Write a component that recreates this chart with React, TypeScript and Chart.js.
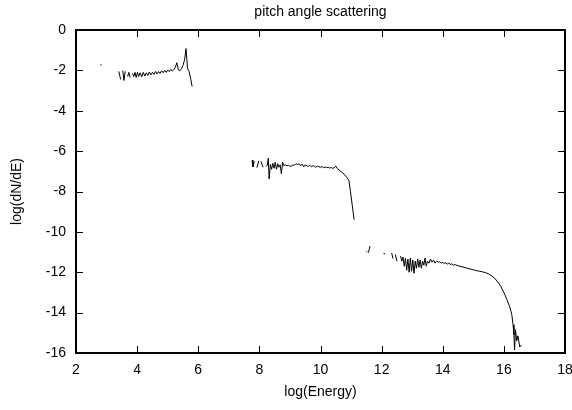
import React, { useEffect, useRef } from "react";
import { Chart, registerables } from "chart.js";

Chart.register(...registerables);

// ---- data (log Energy, log dN/dE); null = gap in the curve ----
const seg0Energy = [2.8, 2.84];
const seg0Flux = [-1.72, -1.74];

const seg1Energy = [3.40, 3.43, 3.46, 3.50, 3.53, 3.57, 3.61, 3.65, 3.69, 3.73, 3.77, 3.81, 3.85, 3.89, 3.93, 3.97, 4.01, 4.05, 4.10, 4.15, 4.20, 4.25, 4.30, 4.35, 4.40, 4.45, 4.50, 4.55, 4.60, 4.65, 4.70, 4.75, 4.80, 4.85, 4.90, 4.95, 5.00, 5.05, 5.10, 5.15, 5.20, 5.25, 5.30, 5.35, 5.40, 5.45, 5.50, 5.55, 5.60, 5.65, 5.70, 5.75, 5.80];
const seg1Flux = [-2.05, -2.25, -2.45, null, -2.0, -2.5, -2.05, null, -2.3, -2.1, -2.35, null, -2.15, -2.3, -2.1, -2.35, -2.1, -2.3, -2.12, -2.32, -2.1, -2.28, -2.12, -2.25, -2.08, -2.22, -2.1, -2.2, -2.05, -2.18, -2.06, -2.15, -2.02, -2.12, -2.0, -2.1, -1.98, -2.06, -1.95, -2.02, -1.97, -1.85, -1.62, -1.98, -2.02, -1.92, -1.75, -1.5, -0.92, -1.9, -2.05, -2.4, -2.8];

const seg2Energy = [7.76, 7.79, 7.83, 7.87, 7.92, 7.98, 8.02, 8.05, 8.12, 8.16, 8.21, 8.26, 8.29, 8.32, 8.36, 8.40, 8.44, 8.48, 8.52, 8.56, 8.60, 8.64, 8.68, 8.72, 8.76, 8.80, 8.85, 8.90, 8.95, 9.00, 9.05, 9.10, 9.15, 9.20, 9.25, 9.30, 9.35, 9.40, 9.45, 9.50, 9.55, 9.60, 9.65, 9.70, 9.75, 9.80, 9.85, 9.90, 9.95, 10.00, 10.05, 10.10, 10.15, 10.20, 10.25, 10.30, 10.35, 10.40, 10.45, 10.50, 10.55, 10.62, 10.70, 10.78, 10.86, 10.93, 10.98, 11.04, 11.10];
const seg2Flux = [-6.45, -6.78, -6.5, null, -6.82, -6.48, null, -6.5, -6.8, null, -6.78, -6.7, -6.35, -7.38, -6.65, -6.9, -6.6, -6.85, -6.55, -6.9, -6.62, -6.8, -6.68, -7.12, -6.55, -6.72, -6.68, -6.72, -6.7, -6.75, -6.74, -6.68, -6.7, -6.62, -6.67, -6.63, -6.72, -6.64, -6.78, -6.68, -6.72, -6.76, -6.7, -6.78, -6.72, -6.75, -6.8, -6.74, -6.78, -6.8, -6.76, -6.82, -6.79, -6.82, -6.8, -6.84, -6.81, -6.85, -6.83, -6.74, -6.86, -6.95, -7.05, -7.15, -7.3, -7.45, -8.0, -8.7, -9.4];

const seg3Energy = [11.50, 11.53, 11.55, 11.57, 11.62, 11.80, 12.06, 12.12, 12.20, 12.33, 12.37, 12.41, 12.45, 12.50, 12.55, 12.62, 12.66, 12.70, 12.74, 12.78, 12.82, 12.86, 12.90, 12.94, 12.98, 13.02, 13.06, 13.10, 13.14, 13.18, 13.22, 13.26, 13.30, 13.34, 13.38, 13.42, 13.46, 13.50, 13.55, 13.60, 13.65, 13.70, 13.75, 13.80, 13.85, 13.90, 13.95, 14.00, 14.05, 14.10, 14.15, 14.20, 14.25, 14.30, 14.35, 14.40, 14.50, 14.60, 14.70, 14.80, 14.90, 15.00, 15.10, 15.20, 15.30, 15.40, 15.50, 15.60, 15.70, 15.80, 15.90, 16.00, 16.10, 16.20, 16.26, 16.30, 16.33, 16.35, 16.38, 16.42, 16.46, 16.52, 16.58];
const seg3Flux = [-10.97, -11.0, null, -11.03, -10.7, null, -11.06, -11.1, null, -11.05, -11.32, null, -11.12, -11.45, null, -11.2, -11.45, -11.25, -11.7, -11.3, -11.9, -11.35, -12.0, -11.3, -11.95, -11.4, -12.05, -11.45, -11.8, -11.35, -11.75, -11.4, -11.8, -11.45, -11.65, -11.3, -11.7, -11.45, -11.55, -11.35, -11.5, -11.4, -11.55, -11.45, -11.5, -11.48, -11.55, -11.5, -11.58, -11.52, -11.6, -11.55, -11.62, -11.58, -11.65, -11.62, -11.68, -11.72, -11.75, -11.8, -11.84, -11.88, -11.92, -11.95, -11.98, -12.02, -12.08, -12.18, -12.3, -12.48, -12.7, -13.0, -13.35, -13.75, -14.1, -14.6, -15.1, -15.85, -14.85, -15.4, -15.15, -15.7, -15.6];

const xMin = 2, xMax = 18, xStep = 2;
const yMin = -16, yMax = 0, yStep = 2;

const titleText = "pitch angle scattering";
const xTitle = "log(Energy)";
const yTitle = "log(dN/dE)";

const FONT = "'Liberation Sans', Arial, Helvetica, sans-serif";

function zip(xs: number[], ys: (number | null)[]) {
  return xs.map((x, i) => ({ x, y: ys[i] }));
}

const framePlugin = {
  id: "gnuFrame",
  afterDatasetsDraw(chart: any) {
    const { ctx, chartArea, scales } = chart;
    const { left, right, top, bottom } = chartArea;
    const xs = scales.x;
    const ys = scales.y;
    const len = 7;
    ctx.save();
    ctx.strokeStyle = "#000";
    ctx.lineWidth = 1;
    ctx.beginPath();
    xs.ticks.forEach((t: any) => {
      const px = Math.round(xs.getPixelForValue(t.value)) + 0.5;
      if (px <= left + 2 || px >= right - 2) return;
      ctx.moveTo(px, bottom);
      ctx.lineTo(px, bottom - len);
      ctx.moveTo(px, top);
      ctx.lineTo(px, top + len);
    });
    ys.ticks.forEach((t: any) => {
      const py = Math.round(ys.getPixelForValue(t.value)) + 0.5;
      if (py <= top + 2 || py >= bottom - 2) return;
      ctx.moveTo(left, py);
      ctx.lineTo(left + len, py);
      ctx.moveTo(right, py);
      ctx.lineTo(right - len, py);
    });
    ctx.stroke();
    ctx.lineWidth = 2;
    ctx.strokeRect(left, top, right - left, bottom - top);
    ctx.restore();
  },
};

export default function App() {
  const ref = useRef<HTMLCanvasElement | null>(null);

  useEffect(() => {
    document.body.style.margin = "0";
    const canvas = ref.current;
    if (!canvas) return;
    Chart.defaults.font.family = FONT;
    Chart.defaults.color = "#000";

    const ds = (data: any[]) => ({
      data,
      showLine: true,
      borderColor: "#000",
      backgroundColor: "#000",
      borderWidth: 1,
      pointRadius: 0,
      pointHoverRadius: 0,
      spanGaps: false,
      tension: 0,
    });

    const chart = new Chart(canvas, {
      type: "scatter",
      data: {
        datasets: [
          ds(zip(seg0Energy, seg0Flux)),
          ds(zip(seg1Energy, seg1Flux)),
          ds(zip(seg2Energy, seg2Flux)),
          ds(zip(seg3Energy, seg3Flux)),
        ],
      },
      options: {
        responsive: false,
        animation: false,
        events: [],
        layout: { padding: { left: 0, right: 7, top: 0, bottom: 0 } },
        plugins: {
          legend: { display: false },
          tooltip: { enabled: false },
          title: {
            display: true,
            fullSize: false,
            text: titleText,
            color: "#000",
            font: { size: 14, weight: "normal", family: FONT },
            padding: { top: 3.6, bottom: 30 - 3.6 - 16.8 },
          },
        },
        scales: {
          x: {
            type: "linear",
            min: xMin,
            max: xMax,
            ticks: {
              stepSize: xStep,
              color: "#000",
              font: { size: 14, family: FONT },
              padding: 9,
              maxRotation: 0,
            },
            grid: { display: false, drawTicks: false },
            border: { display: false },
            title: {
              display: true,
              text: xTitle,
              color: "#000",
              font: { size: 14, family: FONT },
              padding: { top: 0, bottom: 9 },
            },
            afterFit(scale: any) {
              scale.height = 57;
              scale.paddingLeft = 0;
              scale.paddingRight = 0;
            },
          },
          y: {
            type: "linear",
            min: yMin,
            max: yMax,
            ticks: {
              stepSize: yStep,
              color: "#000",
              font: { size: 14, family: FONT },
              padding: 10,
            },
            grid: { display: false, drawTicks: false },
            border: { display: false },
            title: {
              display: true,
              text: yTitle,
              color: "#000",
              font: { size: 14, family: FONT },
              padding: { top: 9, bottom: 0 },
            },
            afterFit(scale: any) {
              scale.width = 76;
              scale.paddingTop = 0;
              scale.paddingBottom = 0;
            },
          },
        },
      },
      plugins: [framePlugin],
    });

    return () => chart.destroy();
  }, []);

  return (
    <div style={{ position: "absolute", left: 0, top: 0, width: 572, height: 410 }}>
      <canvas ref={ref} width={572} height={410} style={{ width: 572, height: 410 }} />
    </div>
  );
}
